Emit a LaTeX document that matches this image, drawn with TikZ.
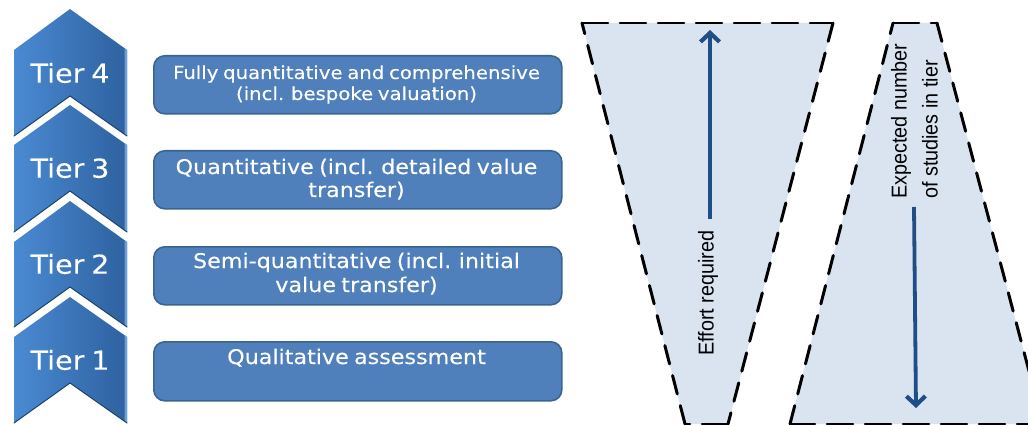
\documentclass[tikz,border=0pt]{standalone}
\usepackage{fontspec}
\setmainfont{DejaVu Sans}
\newfontfamily\wideface[FakeStretch=1.1,FakeBold=0.2,WordSpace=0.75]{DejaVu Sans}
\newfontfamily\armo[FakeStretch=0.92]{Liberation Sans}
\definecolor{chevL}{HTML}{4A8AD2}
\definecolor{chevM}{HTML}{3B78BF}
\definecolor{chevR}{HTML}{2E619F}
\definecolor{chevS}{HTML}{6A9FDB}
\definecolor{chevE}{HTML}{1F4468}
\definecolor{boxF}{HTML}{4F80BC}
\definecolor{boxE}{HTML}{3A658F}
\definecolor{trapF}{HTML}{DAE3F0}
\definecolor{arrowC}{HTML}{1F4E86}
\usetikzlibrary{arrows.meta}
\tikzset{
  chevron/.style={left color=chevL,middle color=chevM,right color=chevR,draw=none},
  chevstrip/.style={fill=chevS,draw=none},
  chevedge/.style={draw=chevE,line width=1pt,line cap=round},
  chevtext/.style={text=white,font=\wideface\fontsize{26}{28}\selectfont,inner sep=0pt},
  tierbox/.style={rectangle,rounded corners=11pt,fill=boxF,draw=boxE,line width=1.6pt,minimum width=408pt,anchor=north west,inner sep=0pt},
  boxtext/.style={text=white,font=\wideface\fontsize{20.2}{22}\selectfont,align=center,inner sep=0pt,anchor=base},
  boxtextsmall/.style={boxtext,font=\wideface\fontsize{17.9}{22}\selectfont},
  trap/.style={fill=trapF,draw=none},
  trapside/.style={draw=black,line width=3pt,dash pattern=on 19pt off 12pt,line cap=round},
  traptop/.style={draw=black,line width=2.6pt,dash pattern=on 26pt off 12pt,line cap=round},
  flow/.style={draw=arrowC,line width=3.8pt,-{Straight Barb[length=9pt,width=19pt,line width=4.2pt]}},
  armtext/.style={text=black,font=\armo\fontsize{21.5}{31}\selectfont,rotate=90,inner sep=0pt,align=left}
}
\newcommand{\chevshape}[4]{% apex y, shoulder y, bottom y, notch y
  \path[chevron] (70,-#1) -- (127,-#2) -- (127,-#3) -- (70,-#4) -- (14,-#3) -- (14,-#2) -- cycle;
  \path[chevstrip] (124.5,-#2+2) -- (127,-#2) -- (127,-#3) -- (124.5,-#3+2) -- cycle;
  \draw[chevedge] (14,-#3) -- (70,-#4) -- (127,-#3);
}
\begin{document}
\begin{tikzpicture}[x=1pt,y=1pt]
\useasboundingbox (0,-425) rectangle (1028,0);
\clip (0,-425) rectangle (1028,0);
\fill[white] (0,-425) rectangle (1028,0);
% chevrons
\chevshape{9}{50}{136}{96}
\chevshape{105}{145}{232}{191}
\chevshape{201}{242}{327}{287}
\chevshape{297}{337}{423}{383}
\node[chevtext] (t4) at (70,-73) {Tier 4};
\node[chevtext] (t3) at (70,-168) {Tier 3};
\node[chevtext] (t2) at (70,-264) {Tier 2};
\node[chevtext] (t1) at (70,-360) {Tier 1};
% boxes
\node[tierbox,minimum height=58pt] (b4) at (153,-55) {};
\node[tierbox,minimum height=58pt] (b3) at (153,-150) {};
\node[tierbox,minimum height=58pt] (b2) at (153,-246) {};
\node[tierbox,minimum height=59pt] (b1) at (153,-341) {};
\node[boxtextsmall] (l4a) at (356.5,-79) {Fully quantitative and comprehensive};
\node[boxtextsmall] (l4b) at (356.5,-100) {(incl. bespoke valuation)};
\node[boxtext] (l3a) at (356.5,-174) {Quantitative (incl. detailed value};
\node[boxtext] (l3b) at (356.5,-197) {transfer)};
\node[boxtext] (l2a) at (356.5,-268) {Semi-quantitative (incl. initial};
\node[boxtext] (l2b) at (356.5,-292) {value transfer)};
\node[boxtext] (l1a) at (356.5,-364) {Qualitative assessment};
% funnels
\path[trap] (582,-23) -- (833,-23) -- (728,-424) -- (685,-424) -- cycle;
\path[trap] (893,-23) -- (937,-23) -- (1043,-424) -- (790,-424) -- cycle;
\draw[traptop] (582,-23) -- (833,-23);
\draw[trapside] (833,-23) -- (728,-424);
\draw[traptop] (728,-424) -- (685,-424);
\draw[trapside] (685,-424) -- (582,-23);
\draw[traptop] (893,-23) -- (937,-23);
\draw[trapside] (937,-23) -- (1043,-424);
\draw[traptop] (1043,-424) -- (790,-424);
\draw[trapside] (790,-424) -- (893,-23);
% arrows
\coordinate (upS) at (710,-219);
\coordinate (upE) at (710,-30);
\coordinate (dnS) at (914,-207);
\coordinate (dnE) at (916,-408);
\draw[flow] (upS) -- (upE);
\draw[flow] (dnS) -- (dnE);
% rotated labels
\node[armtext,anchor=west] (eff) at (708,-356) {Effort required};
\node[armtext,anchor=south west] (exp) at (938,-199) {Expected number\\of studies in tier};
\end{tikzpicture}
\end{document}
